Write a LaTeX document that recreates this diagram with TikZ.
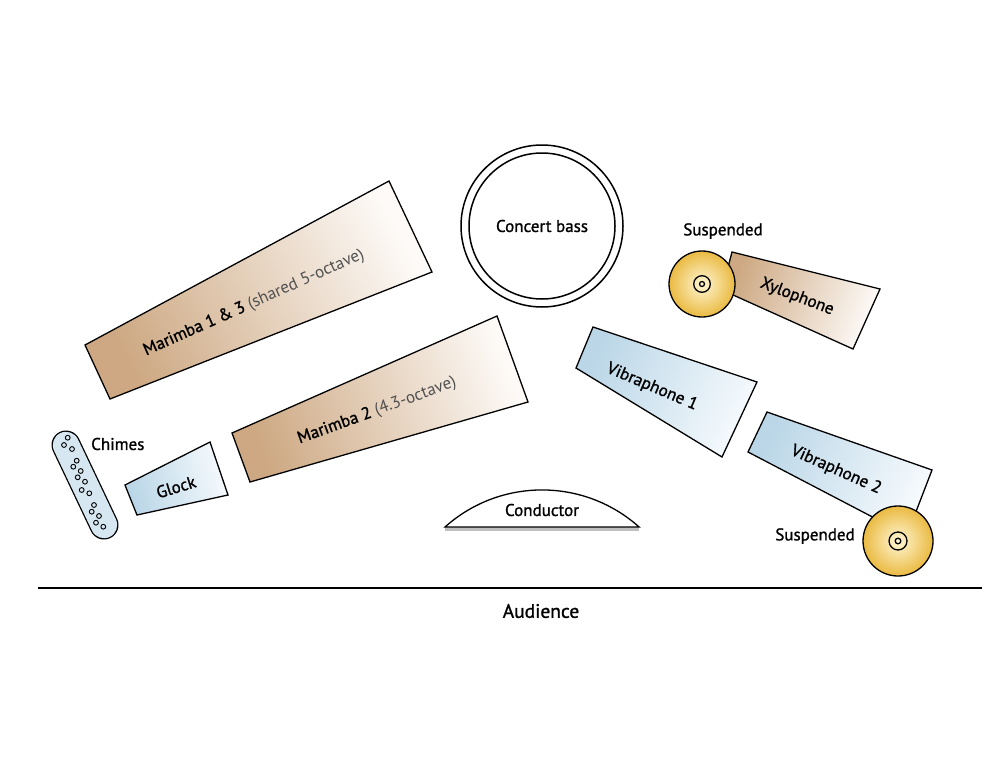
\documentclass[tikz,border=0pt]{standalone}
\usepackage{fontspec}
\setmainfont{PT Sans}
\newfontfamily\labelfont[FakeBold=1.2]{PT Sans}
\definecolor{tanD}{RGB}{205,168,130}
\definecolor{tanW}{RGB}{253,250,247}
\definecolor{blueD}{RGB}{186,214,231}
\definecolor{blueW}{RGB}{246,250,253}
\definecolor{chimeC}{RGB}{214,231,241}
\definecolor{cymE}{RGB}{234,186,66}
\definecolor{cymC}{RGB}{255,246,212}
\definecolor{softgray}{RGB}{80,80,80}
\begin{document}
\begin{tikzpicture}[x=1pt,y=-1pt,
  outline/.style={draw=black, line width=1.3pt, line join=miter},
  brownbox/.style={outline, bottom color=tanD, top color=tanW},
  bluebox/.style={outline, bottom color=blueD, top color=blueW},
  cymbal/.style={outline, inner color=cymC, outer color=cymE},
  lbl/.style={font=\labelfont\fontsize{17}{19}\selectfont, inner sep=0pt, text=black},
  hole/.style={draw=black, line width=0.9pt}]
\useasboundingbox (0,0) rectangle (1000,773);

% Marimba 1 & 3
\draw[brownbox, shading angle=-62] (85,345) -- (389,181) -- (432,272) -- (110,399) -- cycle;
\node[lbl, rotate=24] (m13) at (254,303) {Marimba 1 \& 3 {\normalfont\fontsize{17}{19}\selectfont\color{softgray}(shared 5-octave)}};

% Marimba 2
\draw[brownbox, shading angle=-70] (232,433) -- (497,316) -- (528,402) -- (250,482) -- cycle;
\node[lbl, rotate=20] (m2) at (377,411) {Marimba 2 {\normalfont\fontsize{17}{19}\selectfont\color{softgray}(4.3-octave)}};

% Glock
\draw[bluebox, shading angle=-75] (125,485) -- (210,442) -- (228,495) -- (137,515) -- cycle;
\node[lbl, rotate=17] (glock) at (176,487) {Glock};

% Chimes
\coordinate (ch1) at (66,445);
\coordinate (ch2) at (104,525);
\draw[black, line width=29pt, line cap=round] (ch1) -- (ch2);
\draw[chimeC, line width=26.4pt, line cap=round] (ch1) -- (ch2);
\foreach \px/\py in {67.7/437.7, 64/445, 72/449, 76.7/460.7, 73.3/466.7, 80.7/471,
  77.7/477.3, 85/481.7, 81.7/490, 89.3/493.3, 94/505, 91.7/511.7, 99/516, 96/522.7, 103.3/526.7}
  \draw[hole] (\px,\py) circle[radius=2.4];
\node[lbl, anchor=west] (chimes) at (91,444) {Chimes};

% Concert bass
\draw[line width=1.5pt] (542,226) circle[radius=81];
\draw[line width=1.5pt] (542,226) circle[radius=73];
\node[lbl] (bass) at (542,226) {Concert bass};

% Xylophone + suspended cymbal
\draw[brownbox, shading angle=-110] (732,252) -- (880,289) -- (853,349) -- (722,290) -- cycle;
\node[lbl, rotate=-21] (xylo) at (797,297) {Xylophone};
\draw[cymbal] (702,284) circle[radius=33];
\draw[outline] (702,284) circle[radius=8.3];
\draw[outline] (702,284) circle[radius=2.5];
\node[lbl] (susp1) at (723,231) {Suspended};

% Vibraphone 1
\draw[bluebox, shading angle=-115] (593,327) -- (757,382) -- (722,457) -- (576,368) -- cycle;
\node[lbl, rotate=-23] (vib1) at (652,387) {Vibraphone 1};

% Vibraphone 2 + suspended cymbal
\draw[bluebox, shading angle=-115] (767,412) -- (932,470) -- (907,535) -- (748,452) -- cycle;
\node[lbl, rotate=-24] (vib2) at (836,470) {Vibraphone 2};
\draw[cymbal] (898,541) circle[radius=35];
\draw[outline] (898,541) circle[radius=9];
\draw[outline] (898,541) circle[radius=2.8];
\node[lbl] (susp2) at (815,536) {Suspended};

% Conductor
\coordinate (cL) at (445,527);
\coordinate (cR) at (639,527);
\draw[black!25, line width=4pt] ([yshift=-2pt]cL) -- ([yshift=-2pt]cR);
\draw[outline, fill=white] (cL) arc[start angle=-131.8, end angle=-48.2, radius=145.6] -- cycle;
\node[lbl] (cond) at (542,510) {Conductor};

% Audience
\coordinate (aL) at (38,588);
\coordinate (aR) at (982,588);
\draw[line width=1.6pt] (aL) -- (aR);
\node[lbl, font=\labelfont\fontsize{19.5}{22}\selectfont] (aud) at (541,611) {Audience};
\end{tikzpicture}
\end{document}
